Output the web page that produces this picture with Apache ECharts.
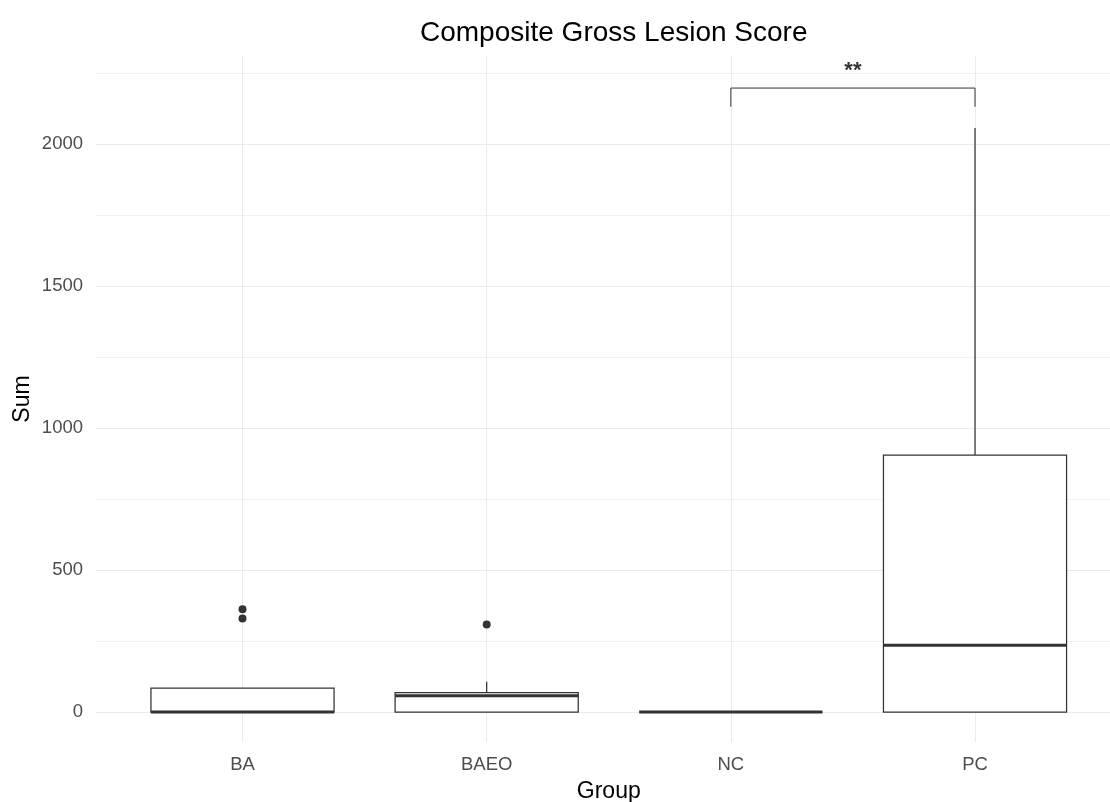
<!DOCTYPE html>
<html>
<head>
<meta charset="utf-8">
<script src="https://cdn.jsdelivr.net/npm/echarts@6/dist/echarts.min.js"></script>
<style>
  html, body { margin: 0; padding: 0; background: #ffffff; }
  #chart { width: 1110px; height: 802px; }
</style>
</head>
<body>
<div id="chart"></div>
<script>
// Groups along the x axis
const groups = ['BA', 'BAEO', 'NC', 'PC'];

// Box summaries per group
const lowerWhisker = [0, 0, 0, 0];
const q1 = [0, 0, 0, 0];
const median = [0, 57, 0, 235];
const q3 = [84, 68, 0, 905];
const upperWhisker = [84, 107, 0, 2057];

// Outlying observations
const outlierGroups = ['BA', 'BA', 'BAEO'];
const outlierValues = [362, 329, 308];

// Labelled y ticks and gridline spacing
const yTicks = [0, 500, 1000, 1500, 2000];
const yGridStep = 250;
const yGridMax = 2250;

// Significance bracket between two groups
const sigPair = ['NC', 'PC'];
const sigBracketY = 2198;
const sigTickY = 2132;
const sigLabelY = 2260;
const sigLabel = '**';

// ---- layout ----
const FONT = "'Liberation Sans', Arial, Helvetica, sans-serif";
const CHART_W = 1110;
const PANEL_LEFT = 96, PANEL_TOP = 56, PANEL_BOTTOM = 742;
const ZERO_PX = 712;              // pixel row of y = 0
const PX_PER_UNIT_Y = 0.28387;    // vertical pixels per data unit
const PX_PER_GROUP = 244.17;      // horizontal pixels per group
const X_MIN = 0.4;
// panel runs to the right edge of the canvas
const X_MAX = X_MIN + (CHART_W - PANEL_LEFT) / PX_PER_GROUP;
const Y_MIN = -(PANEL_BOTTOM - ZERO_PX) / PX_PER_UNIT_Y;
const Y_MAX = (ZERO_PX - PANEL_TOP) / PX_PER_UNIT_Y;
const BOX_WIDTH = 0.75;           // in group units

const panelWidth = CHART_W - PANEL_LEFT;
const panelHeight = PANEL_BOTTOM - PANEL_TOP;
const panelCenterX = PANEL_LEFT + (groups.length / 2 + 0.5 - X_MIN) * PX_PER_GROUP;
const firstCenterPx = PANEL_LEFT + (1 - X_MIN) * PX_PER_GROUP;
const hGridTop = ZERO_PX - yGridMax * PX_PER_UNIT_Y;

const xPos = g => groups.indexOf(g) + 1;

const boxData = groups.map((g, i) =>
  [i + 1, lowerWhisker[i], q1[i], median[i], q3[i], upperWhisker[i]]);
const outlierData = outlierGroups.map((g, i) => [xPos(g), outlierValues[i]]);
const bracketData = [
  [xPos(sigPair[0]), sigTickY],
  [xPos(sigPair[0]), sigBracketY],
  [xPos(sigPair[1]), sigBracketY],
  [xPos(sigPair[1]), sigTickY]
];
const sigLabelData = [[(xPos(sigPair[0]) + xPos(sigPair[1])) / 2, sigLabelY]];

const INK = '#333333';
const LINE_W = 1.25;

function renderBox(params, api) {
  const x = api.value(0);
  const lo = api.coord([x, api.value(1)]);
  const b1 = api.coord([x, api.value(2)]);
  const md = api.coord([x, api.value(3)]);
  const b3 = api.coord([x, api.value(4)]);
  const hi = api.coord([x, api.value(5)]);
  const half = api.size([BOX_WIDTH, 0])[0] / 2;
  const cx = lo[0];
  const children = [];
  if (api.value(5) > api.value(4)) {
    children.push({ type: 'line', shape: { x1: cx, y1: b3[1], x2: cx, y2: hi[1] },
      style: { stroke: INK, lineWidth: LINE_W } });
  }
  if (api.value(1) < api.value(2)) {
    children.push({ type: 'line', shape: { x1: cx, y1: b1[1], x2: cx, y2: lo[1] },
      style: { stroke: INK, lineWidth: LINE_W } });
  }
  children.push({ type: 'rect',
    shape: { x: cx - half, y: b3[1], width: 2 * half, height: b1[1] - b3[1] },
    style: { fill: '#ffffff', stroke: INK, lineWidth: LINE_W } });
  children.push({ type: 'line', shape: { x1: cx - half, y1: md[1], x2: cx + half, y2: md[1] },
    style: { stroke: INK, lineWidth: 3 } });
  return { type: 'group', children };
}

const chart = echarts.init(document.getElementById('chart'), null, { renderer: 'canvas' });

chart.setOption({
  animation: false,
  backgroundColor: '#ffffff',
  title: {
    text: 'Composite Gross Lesion Score',
    left: panelCenterX,
    textAlign: 'center',
    top: 14,
    textStyle: { fontFamily: FONT, fontSize: 28, fontWeight: 'normal', color: '#000000' }
  },
  grid: [
    // data panel
    { left: PANEL_LEFT, top: PANEL_TOP, width: panelWidth, height: panelHeight, outerBoundsMode: 'none' },
    // horizontal gridlines and y labels
    { left: PANEL_LEFT, top: hGridTop, width: panelWidth, height: ZERO_PX - hGridTop, outerBoundsMode: 'none' },
    // vertical gridlines and group labels
    { left: firstCenterPx, top: PANEL_TOP, width: (groups.length - 1) * PX_PER_GROUP, height: panelHeight, outerBoundsMode: 'none' }
  ],
  xAxis: [
    { gridIndex: 0, type: 'value', min: X_MIN, max: X_MAX, show: false },
    { gridIndex: 1, type: 'value', min: 0, max: 1, show: false },
    {
      gridIndex: 2, type: 'value', min: 1, max: groups.length, interval: 1,
      axisLine: { show: false }, axisTick: { show: false },
      axisLabel: {
        showMinLabel: true, showMaxLabel: true, margin: 13,
        fontFamily: FONT, fontSize: 18.5, color: '#4d4d4d',
        formatter: v => groups[Math.round(v) - 1] || ''
      },
      splitLine: { show: true, lineStyle: { color: '#ebebeb', width: 1 } },
      name: 'Group', nameLocation: 'middle', nameGap: 38,
      nameTextStyle: { fontFamily: FONT, fontSize: 23, color: '#000000' }
    }
  ],
  yAxis: [
    {
      gridIndex: 0, type: 'value', min: Y_MIN, max: Y_MAX,
      axisLine: { show: false }, axisTick: { show: false }, axisLabel: { show: false },
      splitLine: { show: false },
      name: 'Sum', nameLocation: 'middle', nameRotate: 90, nameGap: 62,
      nameTextStyle: { fontFamily: FONT, fontSize: 23, color: '#000000' }
    },
    {
      gridIndex: 1, type: 'value', min: 0, max: yGridMax, interval: yGridStep,
      axisLine: { show: false }, axisTick: { show: false },
      axisLabel: {
        margin: 13, fontFamily: FONT, fontSize: 18.5, color: '#4d4d4d',
        showMinLabel: true, showMaxLabel: true,
        formatter: v => (yTicks.indexOf(v) >= 0 ? String(v) : '')
      },
      splitLine: { show: true, lineStyle: { color: ['#ebebeb', '#f1f1f1'], width: 1 } }
    },
    { gridIndex: 2, type: 'value', min: 0, max: 1, show: false }
  ],
  series: [
    {
      type: 'custom', name: 'box', xAxisIndex: 0, yAxisIndex: 0,
      encode: { x: 0, y: [1, 2, 3, 4, 5] },
      renderItem: renderBox, data: boxData, z: 3
    },
    {
      type: 'scatter', name: 'outliers', xAxisIndex: 0, yAxisIndex: 0,
      data: outlierData, symbol: 'circle', symbolSize: 8,
      itemStyle: { color: INK, opacity: 1 }, z: 4
    },
    {
      type: 'line', name: 'bracket', xAxisIndex: 0, yAxisIndex: 0,
      data: bracketData, symbol: 'none',
      lineStyle: { color: INK, width: 1 }, z: 4
    },
    {
      type: 'scatter', name: 'signif', xAxisIndex: 0, yAxisIndex: 0,
      data: sigLabelData, symbolSize: 0,
      label: {
        show: true, position: 'inside', formatter: sigLabel,
        fontFamily: FONT, fontSize: 22, fontWeight: 'bold', color: '#000000'
      },
      z: 5
    }
  ]
});
</script>
</body>
</html>
